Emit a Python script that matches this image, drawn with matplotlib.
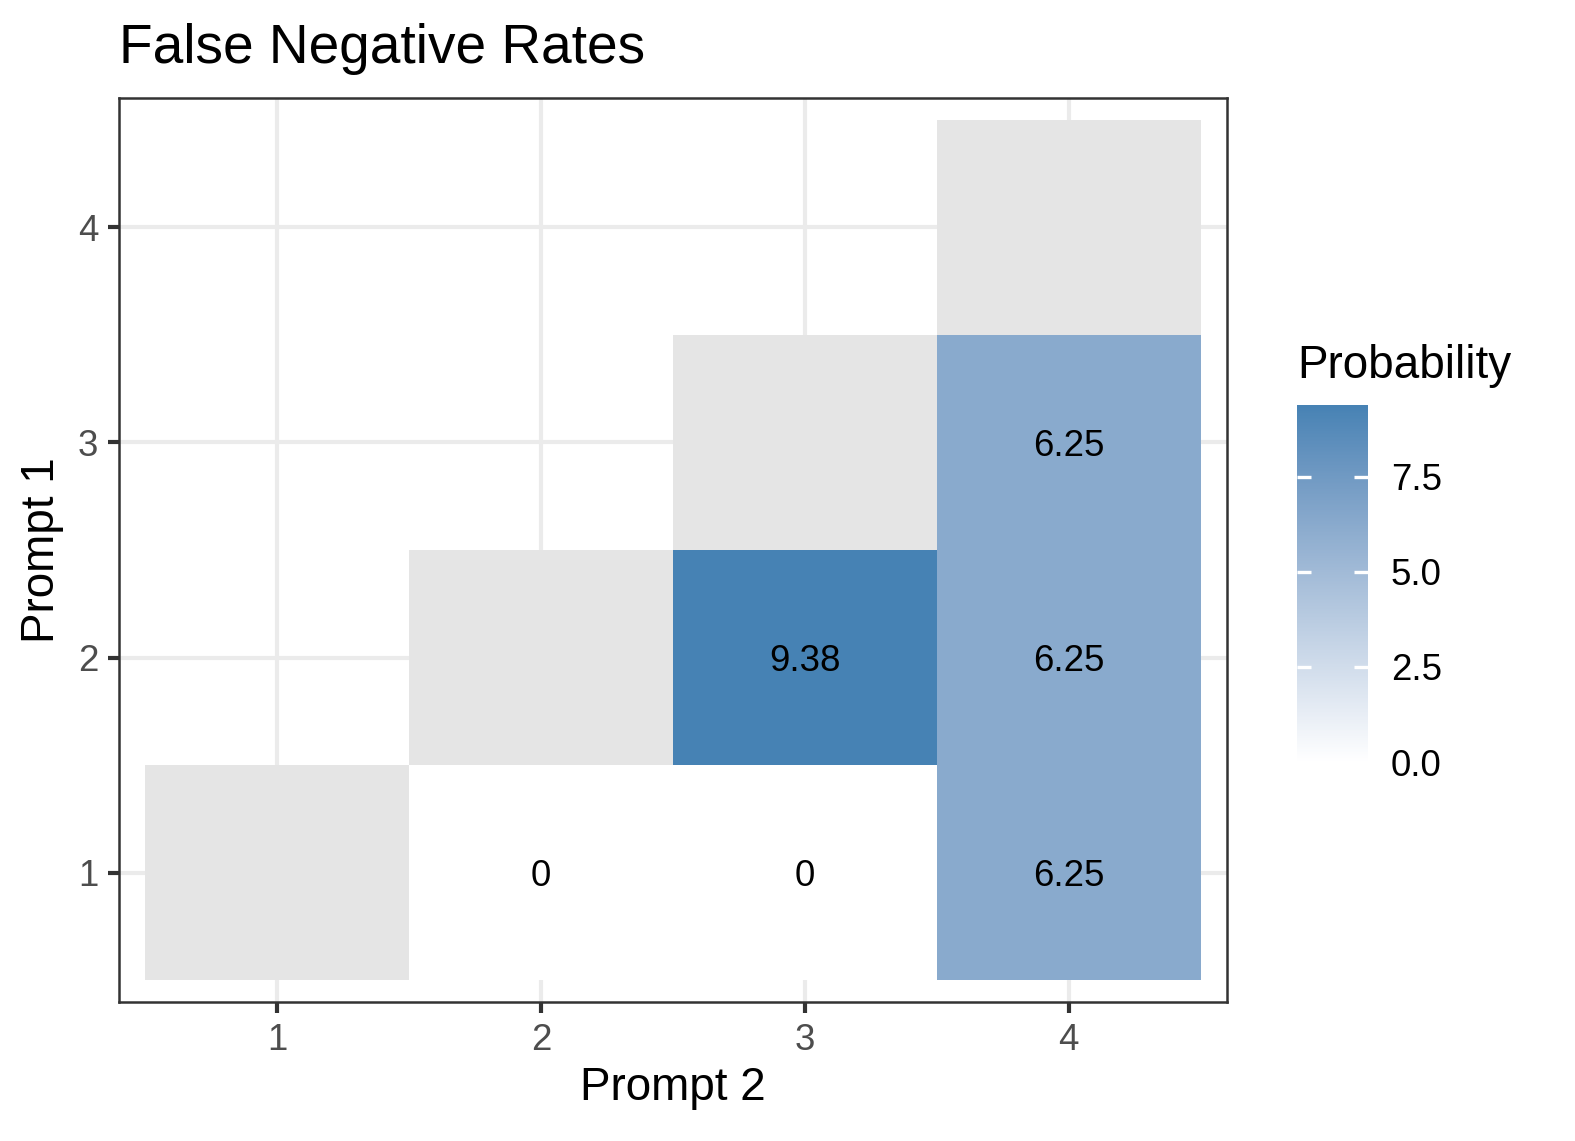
import numpy as np
import matplotlib as mpl
import matplotlib.pyplot as plt
from matplotlib.colors import ListedColormap, Normalize

plt.rcParams['font.family'] = ['Liberation Sans', 'DejaVu Sans']

# lower triangle of prompt pairs; None = NA (drawn grey)
prompt2 = [1, 2, 3, 4, 2, 3, 4, 3, 4, 4]
prompt1 = [1, 1, 1, 1, 2, 2, 2, 3, 3, 4]
rate = [None, 0, 0, 6.25, None, 9.38, 6.25, None, 6.25, None]
ticks = [1, 2, 3, 4]
cbar_ticks = [0.0, 2.5, 5.0, 7.5]

# ggplot-ish white -> steelblue gradient, interpolated in Lab
M = np.array([[0.4124, 0.3576, 0.1805],
              [0.2126, 0.7152, 0.0722],
              [0.0193, 0.1192, 0.9505]])
WHITE = np.array([0.95047, 1.0, 1.08883])

def srgb_to_lab(rgb):
    c = np.asarray(rgb, float)
    c = np.where(c > 0.04045, ((c + 0.055) / 1.055) ** 2.4, c / 12.92)
    xyz = c @ M.T / WHITE
    f = np.where(xyz > 216 / 24389, np.cbrt(xyz), (24389 / 27 * xyz + 16) / 116)
    return np.stack([116 * f[..., 1] - 16,
                     500 * (f[..., 0] - f[..., 1]),
                     200 * (f[..., 1] - f[..., 2])], -1)

def lab_to_srgb(lab):
    fy = (lab[..., 0] + 16) / 116
    f = np.stack([fy + lab[..., 1] / 500, fy, fy - lab[..., 2] / 200], -1)
    xyz = np.where(f ** 3 > 216 / 24389, f ** 3, (116 * f - 16) / (24389 / 27)) * WHITE
    c = xyz @ np.linalg.inv(M).T
    c = np.clip(c, 0, None)
    c = np.where(c > 0.0031308, 1.055 * c ** (1 / 2.4) - 0.055, 12.92 * c)
    return np.clip(c, 0, 1)

lo = srgb_to_lab(mpl.colors.to_rgb('white'))
hi = srgb_to_lab(mpl.colors.to_rgb('steelblue'))
t = np.linspace(0, 1, 256)[:, None]
cmap = ListedColormap(lab_to_srgb(lo + t * (hi - lo)))
vals = [v for v in rate if v is not None]
norm = Normalize(0, max(vals))

W, H = 1575, 1141
fig = plt.figure(figsize=(W / 300, H / 300), dpi=300)
ax = fig.add_axes([119 / W, 1 - 1002 / H, (1227 - 119) / W, (1002 - 98) / H])

# matrices for pcolormesh
val = np.full((4, 4), np.nan)
na = np.full((4, 4), np.nan)
for x, y, v in zip(prompt2, prompt1, rate):
    if v is None:
        na[y - 1, x - 1] = 1
    else:
        val[y - 1, x - 1] = v
edges = np.arange(0.5, 5.0, 1.0)
ax.pcolormesh(edges, edges, np.ma.masked_invalid(na), cmap=ListedColormap(['#E5E5E5']), zorder=2)
ax.pcolormesh(edges, edges, np.ma.masked_invalid(val), cmap=cmap, norm=norm, zorder=2)
for x, y, v in zip(prompt2, prompt1, rate):
    if v is not None:
        ax.text(x, y, f"{v:g}", ha='center', va='center_baseline', fontsize=8.8,
                color='black', zorder=3)

ax.set_xlim(0.4, 4.6)
ax.set_ylim(0.4, 4.6)
ax.set_xticks(ticks)
ax.set_yticks(ticks)
ax.grid(True, color='#EBEBEB', lw=1.0, zorder=0)
ax.set_axisbelow(True)
ax.tick_params(length=2.75, width=1.0, color='#333333', labelcolor='#4D4D4D',
               labelsize=8.8, pad=2.2)
for s in ax.spines.values():
    s.set_color('#333333')
    s.set_linewidth(0.6)

fig.text(119 / W, 1 - 63 / H, 'False Negative Rates', fontsize=13.2, ha='left', va='baseline')
fig.text(673 / W, 1 - 1088 / H, 'Prompt 2', fontsize=11, ha='center', va='center')
fig.text(42 / W, 1 - 550 / H, 'Prompt 1', fontsize=11, ha='center', va='center', rotation=90)

# colourbar legend
cax = fig.add_axes([1297 / W, 1 - 762 / H, 71 / W, 357 / H])
sm = mpl.cm.ScalarMappable(norm=norm, cmap=cmap)
cb = fig.colorbar(sm, cax=cax, ticks=cbar_ticks)
cb.outline.set_visible(False)
cax.tick_params(length=0, labelsize=8.8, pad=5.5, labelcolor='black')
cax.yaxis.set_major_formatter(mpl.ticker.FormatStrFormatter('%.1f'))
tr = cax.get_yaxis_transform()
cax.hlines(cbar_ticks[1:], 0, 0.2, colors='white', lw=0.8, transform=tr)
cax.hlines(cbar_ticks[1:], 0.8, 1.0, colors='white', lw=0.8, transform=tr)
fig.text(1297 / W, 1 - 378 / H, 'Probability', fontsize=11, ha='left', va='baseline')

fig.savefig('out.png', dpi=300)
